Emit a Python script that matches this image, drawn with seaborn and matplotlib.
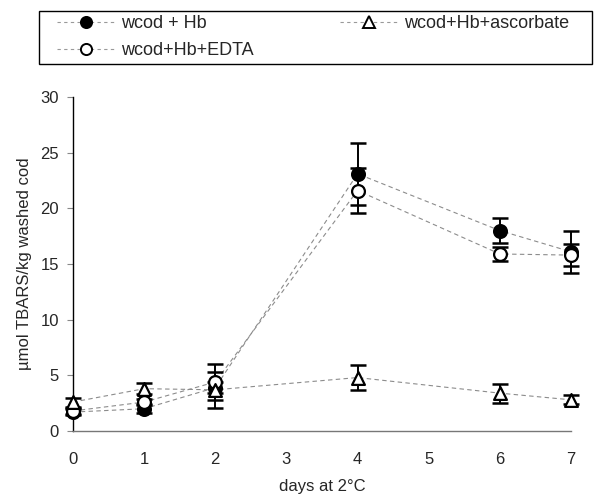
import matplotlib
matplotlib.use("Agg")
import matplotlib.pyplot as plt
import numpy as np
import pandas as pd
import seaborn as sns
from matplotlib.patches import Rectangle
from matplotlib.lines import Line2D

# values
days = [0, 1, 2, 4, 6, 7]
hb_mean = [1.7, 2.0, 3.9, 23.1, 18.0, 16.1]
hb_sd = [0.3, 0.4, 0.5, 2.8, 1.1, 1.9]
edta_mean = [1.8, 2.6, 4.4, 21.6, 15.9, 15.8]
edta_sd = [0.3, 0.3, 1.6, 2.0, 0.6, 1.0]
asc_mean = [2.6, 3.8, 3.7, 4.8, 3.4, 2.8]
asc_sd = [0.4, 0.5, 1.6, 1.1, 0.85, 0.4]

labels = ['wcod + Hb', 'wcod+Hb+EDTA', 'wcod+Hb+ascorbate']
xticks = [0, 1, 2, 3, 4, 5, 6, 7]

sns.set_theme(style='white')
plt.rcParams['font.family'] = ['Liberation Sans', 'DejaVu Sans']

fig = plt.figure(figsize=(5.95, 4.96), dpi=100)
ax = fig.add_axes([73/595, 65/496, 498/595, 334/496])

series = [
    (hb_mean, hb_sd, 'o', 'black'),
    (edta_mean, edta_sd, 'o', 'white'),
    (asc_mean, asc_sd, '^', 'white'),
]
line_col = '#8c8c8c'

for (m, sd, mk, fc), lab in zip(series, labels):
    df = pd.DataFrame({'day': days, 'val': m})
    # dashed connecting line
    sns.lineplot(data=df, x='day', y='val', ax=ax, color=line_col,
                 lw=0.8, zorder=2)
    ax.lines[-1].set_dashes([4, 3])
    ax.errorbar(days, m, yerr=sd, fmt='none', ecolor='black', elinewidth=1.4,
                capsize=6, capthick=1.8, zorder=3, clip_on=False)
    sns.scatterplot(data=df, x='day', y='val', ax=ax, marker=mk, s=85,
                    color=fc, edgecolor='black', linewidth=1.6, zorder=4,
                    clip_on=False)

ax.set_xlim(0, 7)
ax.set_ylim(0, 30)
ax.set_xticks(xticks)
ax.set_xticklabels([str(t) for t in xticks], fontsize=12)
ax.set_yticks(range(0, 31, 5))
ax.tick_params(axis='y', labelsize=12, left=True, length=4, width=0.8,
               color='#888888', pad=6)
ax.tick_params(axis='x', bottom=False, pad=9)
sns.despine(ax=ax)
ax.spines['left'].set_color('black')
ax.spines['left'].set_linewidth(1.0)
ax.spines['bottom'].set_color('#777777')
ax.spines['bottom'].set_linewidth(1.0)
ax.set_xlabel('days at 2°C', fontsize=12, labelpad=9)
ax.set_ylabel('µmol TBARS/kg washed cod', fontsize=12, labelpad=6)

# legend with a plain rectangular frame near the top edge
fig.patches.append(Rectangle((39/595, 432/496), 553/595, 53/496,
                             transform=fig.transFigure, fill=False,
                             edgecolor='black', lw=1.0))
handles = []
for (m, sd, mk, fc) in series:
    handles.append(Line2D([], [], color='#999999', lw=0.8, dashes=[3, 3],
                          marker=mk, markersize=8, markerfacecolor=fc,
                          markeredgecolor='black', markeredgewidth=1.4))
fig.legend(handles, labels,
           loc='upper left', bbox_to_anchor=(57/595, 1 - 15/496), ncol=2,
           frameon=False, fontsize=13, handlelength=3.2, handletextpad=0.35,
           columnspacing=4.8, labelspacing=0.55, borderpad=0,
           borderaxespad=0)

fig.savefig('out.png', dpi=100)
